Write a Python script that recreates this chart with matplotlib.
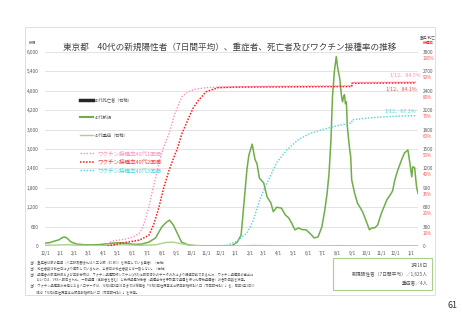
import numpy as np
import pandas as pd
import matplotlib
matplotlib.use("Agg")
import matplotlib.pyplot as plt
import matplotlib.dates as mdates
import matplotlib.transforms as mtrans
from matplotlib.lines import Line2D
from matplotlib.patches import Rectangle

plt.rcParams['font.family'] = ['Noto Sans CJK JP', 'DejaVu Sans']

# 40代新規陽性者（7日間平均）
new_dates = ["2020-12-01", "2020-12-10", "2020-12-20", "2020-12-29", "2021-01-05", "2021-01-10",
             "2021-01-15", "2021-01-24", "2021-02-05", "2021-02-20", "2021-03-10", "2021-03-25",
             "2021-04-10", "2021-04-25", "2021-05-08", "2021-05-20", "2021-06-05", "2021-06-20",
             "2021-07-05", "2021-07-19", "2021-08-01", "2021-08-11", "2021-08-17", "2021-08-25",
             "2021-09-04", "2021-09-11", "2021-09-25", "2021-10-10", "2021-11-01", "2021-12-01",
             "2021-12-25", "2022-01-05", "2022-01-13", "2022-01-19", "2022-01-25", "2022-01-29",
             "2022-02-05", "2022-02-11", "2022-02-15", "2022-02-20", "2022-03-01", "2022-03-08",
             "2022-03-16", "2022-03-21", "2022-03-28", "2022-04-07", "2022-04-15", "2022-04-22",
             "2022-04-28", "2022-05-05", "2022-05-13", "2022-05-19", "2022-05-28", "2022-06-06",
             "2022-06-14", "2022-06-22", "2022-06-30", "2022-07-06", "2022-07-11", "2022-07-15",
             "2022-07-19", "2022-07-22", "2022-07-26", "2022-07-30", "2022-08-02", "2022-08-06",
             "2022-08-10", "2022-08-12", "2022-08-14", "2022-08-16", "2022-08-18", "2022-08-20",
             "2022-08-22", "2022-08-26", "2022-08-29", "2022-08-31", "2022-09-06", "2022-09-12",
             "2022-09-18", "2022-09-23", "2022-10-01", "2022-10-07", "2022-10-12", "2022-10-18",
             "2022-10-24", "2022-11-01", "2022-11-12", "2022-11-20", "2022-11-24", "2022-11-29",
             "2022-12-05", "2022-12-13", "2022-12-19", "2022-12-26", "2022-12-30", "2023-01-03",
             "2023-01-05", "2023-01-09", "2023-01-13", "2023-01-16"]
new_vals = [90, 100, 150, 185, 250, 280,
            255, 125, 60, 40, 35, 45,
            70, 95, 100, 80, 50, 60,
            120, 250, 590, 740, 800, 650,
            340, 120, 35, 12, 6, 5,
            10, 120, 340, 1330, 2350, 2800,
            3150, 2670, 2550, 2100, 1950, 1520,
            1330, 1060, 1200, 1170, 960, 870,
            710, 500, 560, 510, 500, 380,
            250, 280, 590, 1100, 1640, 2260,
            3300, 4600, 5400, 5860, 5500, 5200,
            4620, 4460, 4600, 4680, 4400, 4460,
            3690, 3100, 2760, 2050, 1640, 1330,
            1180, 1050, 740, 500, 560, 560,
            650, 1020, 1420, 1600, 1700, 2050,
            2350, 2670, 2880, 2970, 2570, 2140,
            2450, 2420, 1830, 1625]

# 40代重症（右軸）
severe_dates = ["2020-12-01", "2021-01-15", "2021-02-15", "2021-04-01", "2021-05-10", "2021-06-15",
                "2021-07-20", "2021-08-10", "2021-08-25", "2021-09-10", "2021-10-01", "2021-11-01",
                "2022-01-15", "2022-02-10", "2022-03-15", "2022-06-01", "2022-08-10", "2022-10-01",
                "2022-12-20", "2023-01-16"]
severe_vals = [10, 20, 10, 5, 20, 10,
               20, 55, 60, 35, 8, 1,
               2, 8, 4, 1, 5, 2,
               4, 4]

# 40代死亡者（右軸）
death_dates = ["2021-01-20", "2021-05-10", "2021-08-20", "2021-09-01", "2022-02-15",
               "2022-08-10", "2022-08-20", "2022-12-25"]
death_vals = [1, 1, 2, 1, 1, 2, 1, 1]

# ワクチン接種率 (%)
dose1_dates = ["2021-04-05", "2021-04-19", "2021-05-15", "2021-06-01", "2021-06-15", "2021-06-21",
               "2021-06-28", "2021-07-05", "2021-07-12", "2021-07-20", "2021-07-26", "2021-08-01",
               "2021-08-08", "2021-08-16", "2021-08-28", "2021-09-05", "2021-09-12", "2021-09-25",
               "2021-10-10", "2021-11-01", "2021-12-01", "2022-03-01", "2022-08-31", "2022-09-01",
               "2023-01-12"]
dose1_vals = [0, 2.5, 3.5, 4.5, 6.5, 9,
              14, 20, 28, 36, 43, 48,
              53, 58, 68, 73, 77, 79.5,
              80.8, 81.6, 82.0, 82.3, 82.6, 84.3,
              84.5]

dose2_dates = ["2021-04-10", "2021-05-10", "2021-06-15", "2021-07-05", "2021-07-15", "2021-07-20",
               "2021-07-26", "2021-08-05", "2021-08-16", "2021-08-25", "2021-09-02", "2021-09-12",
               "2021-09-26", "2021-10-05", "2021-10-16", "2021-11-01", "2021-11-26", "2022-01-01",
               "2022-04-01", "2022-08-31", "2022-09-01", "2023-01-12"]
dose2_vals = [0, 1.5, 3, 5.5, 11, 15,
              20, 30, 39, 45, 50, 58,
              66, 71, 75, 79.5, 81.6, 81.9,
              82.0, 82.2, 83.9, 84.1]

dose3_dates = ["2021-12-01", "2021-12-16", "2022-01-05", "2022-01-26", "2022-02-07", "2022-02-21",
               "2022-03-07", "2022-03-28", "2022-04-18", "2022-05-13", "2022-06-05", "2022-07-01",
               "2022-08-01", "2022-08-31", "2022-09-01", "2022-10-01", "2022-11-01", "2022-12-01",
               "2023-01-12"]
dose3_vals = [0, 0.5, 2.5, 7, 13, 24,
              32, 43, 49.5, 55, 58, 60,
              62, 63.5, 65.1, 65.9, 66.5, 66.9,
              67.2]

GREEN = "#70ad47"
LGREEN = "#a9d18e"
PINK = "#ff8fc0"
RED = "#ff1a1a"
CYAN = "#4fd6d6"
GRAY = "#595959"

fig = plt.figure(figsize=(4.62, 3.2), dpi=100)
fig.patches.append(Rectangle((25 / 462, 1 - 295 / 320), 410 / 462, 268 / 320,
                             transform=fig.transFigure, fill=False, ec="#d9d9d9", lw=0.6))

ax = fig.add_axes([45 / 462, 1 - 246 / 320, 373 / 462, 194 / 320])
ax2 = ax.twinx()
ax3 = ax.twinx()

ax.plot(pd.to_datetime(new_dates), new_vals, color=GREEN, lw=1.1, zorder=3)
ax2.bar(pd.to_datetime(death_dates), death_vals, width=1, color="#262626")
ax2.plot(pd.to_datetime(severe_dates), severe_vals, color=LGREEN, lw=1.0)
ax3.plot(pd.to_datetime(dose1_dates), dose1_vals, color=PINK, lw=1.0, ls=(0, (1, 1.2)))
ax3.plot(pd.to_datetime(dose2_dates), dose2_vals, color=RED, lw=1.1, ls=(0, (1, 1)))
ax3.plot(pd.to_datetime(dose3_dates), dose3_vals, color=CYAN, lw=1.0, ls=(0, (1, 1.2)))

ax.set_xlim(pd.Timestamp("2020-12-01"), pd.Timestamp("2023-01-16"))
ax.set_ylim(0, 6000)
ax2.set_ylim(0, 3000)
ax3.set_ylim(0, 100)

ax.set_yticks(range(0, 6001, 600))
ax.set_yticklabels([f"{v:,}" for v in range(0, 6001, 600)])
ax.grid(axis="y", color="#d9d9d9", lw=0.5)
ax.set_axisbelow(True)

months = pd.date_range("2020-12-01", "2023-01-01", freq="MS")
ax.set_xticks(months)
ax.set_xticklabels([f"{d.month}/1" for d in months])
ax.tick_params(axis="both", length=0, labelsize=3.4, colors=GRAY)
ax.tick_params(axis="x", pad=3.5)
ax.tick_params(axis="y", pad=4.5)

ax2.set_yticks(range(0, 3001, 300))
ax2.tick_params(axis="y", length=0, labelsize=3.4, colors=GRAY, pad=3.5)
ax3.set_yticks(range(10, 101, 10))
ax3.set_yticklabels([f"{v}%" for v in range(10, 101, 10)])
ax3.tick_params(axis="y", length=0, labelsize=3.2, colors="#ff5050", pad=3.5)
shift = mtrans.ScaledTranslation(0, -0.06, fig.dpi_scale_trans)
for lab in ax3.get_yticklabels():
    lab.set_transform(lab.get_transform() + shift)

for a in (ax, ax2, ax3):
    for s in a.spines.values():
        s.set_visible(False)

# ラベル
ax3.annotate("1/12、84.5%", xy=(pd.Timestamp("2023-01-12"), 84.5), xytext=(5, 7),
             textcoords="offset pixels", ha="right", va="center", fontsize=3.8, color=PINK)
ax3.annotate("1/12、84.1%", xy=(pd.Timestamp("2023-01-12"), 84.1), xytext=(1, -7),
             textcoords="offset pixels", ha="right", va="center", fontsize=3.8, color="#f05050")
ax3.annotate("1/12、67.2%", xy=(pd.Timestamp("2023-01-12"), 67.2), xytext=(0, 4),
             textcoords="offset pixels", ha="right", va="center", fontsize=3.8, color=CYAN)

h1 = [Line2D([], [], color="#262626", lw=2.5),
      Line2D([], [], color=GREEN, lw=1.5),
      Line2D([], [], color=LGREEN, lw=1.0)]
leg1 = ax3.legend(h1, ["40代死亡者（右軸）", "40代新規", "40代重症（右軸）"],
                  loc="upper left", bbox_to_anchor=(0.094, 0.765), frameon=False,
                  fontsize=3.0, labelspacing=3.2, handlelength=3.1, handletextpad=0.5,
                  borderpad=0, borderaxespad=0, labelcolor=GRAY)
ax3.add_artist(leg1)
h2 = [Line2D([], [], color=PINK, lw=1.0, ls=(0, (1, 1.2))),
      Line2D([], [], color=RED, lw=1.1, ls=(0, (1, 1))),
      Line2D([], [], color=CYAN, lw=1.0, ls=(0, (1, 1.2)))]
ax3.legend(h2, ["ワクチン接種率40代1回目", "ワクチン接種率40代2回目", "ワクチン接種率40代3回目"],
           loc="upper left", bbox_to_anchor=(0.094, 0.49), frameon=False,
           fontsize=4.0, labelspacing=0.55, handlelength=2.7, handletextpad=0.4,
           borderpad=0, borderaxespad=0, labelcolor=[PINK, "#f04040", CYAN])

fig.text(0.498, 1 - 47 / 320, "東京都　40代の新規陽性者（7日間平均）、重症者、死亡者及びワクチン接種率の推移",
         ha="center", va="center", fontsize=6.2, color="#404040")
fig.text(33 / 462, 1 - 43 / 320, "新規", ha="center", va="center", fontsize=2.6, color=GRAY)
fig.text(428 / 462, 1 - 37 / 320, "重症/死亡", ha="center", va="center", fontsize=2.6, color=GRAY)
fig.text(428 / 462, 1 - 43 / 320, "接種率", ha="center", va="center", fontsize=2.6, color="#ff3030")

notes = ("注1：重症者は都の基準（人工呼吸器または人工心肺（ECMO）を使用している患者）（右軸）\n"
         "注2：死亡者数は死亡日により集計しているため、公表日の死亡者数とは一致しない。（右軸）\n"
         "注3：接種者の都道府県および年齢分布は、ワクチン接種記録システム(VRS)に報告済みのデータのみにより把握可能であるため、ワクチン接種率の算出に\n"
         "　　おいては、VRSへ報告された、一般接種（高齢者を含む）と先行接種対象者（接種券付き予診票で接種を行った優先接種者）の合計回数を使用。\n"
         "注4：ワクチン接種率の分母となる人口データは、令和4年8月31日までは総務省「令和3年住民基本台帳年齢階級別人口（市区町村別）」を、同年9月1日以\n"
         "　　降は「令和4年住民基本台帳年齢階級別人口（市区町村別）」を使用。")
fig.text(30 / 462, 1 - 261 / 320, notes, ha="left", va="top", fontsize=2.3, color=GRAY,
         linespacing=1.55)

fig.patches.append(Rectangle((333 / 462, 1 - 290 / 320), 99 / 462, 32 / 320,
                             transform=fig.transFigure, fill=False, ec=LGREEN, lw=0.8))
fig.text(428 / 462, 1 - 265 / 320, "1月16日", ha="right", va="center", fontsize=3.4, color=GRAY)
fig.text(428 / 462, 1 - 274 / 320, "新規陽性者（7日間平均）／1,625人", ha="right", va="center",
         fontsize=3.4, color=GRAY)
fig.text(428 / 462, 1 - 283 / 320, "重症者／4人", ha="right", va="center", fontsize=3.4, color=GRAY)

fig.text(452 / 462, 1 - 306 / 320, "61", ha="center", va="center", fontsize=6.5, color="#333333")

fig.savefig("out.png", dpi=100)
